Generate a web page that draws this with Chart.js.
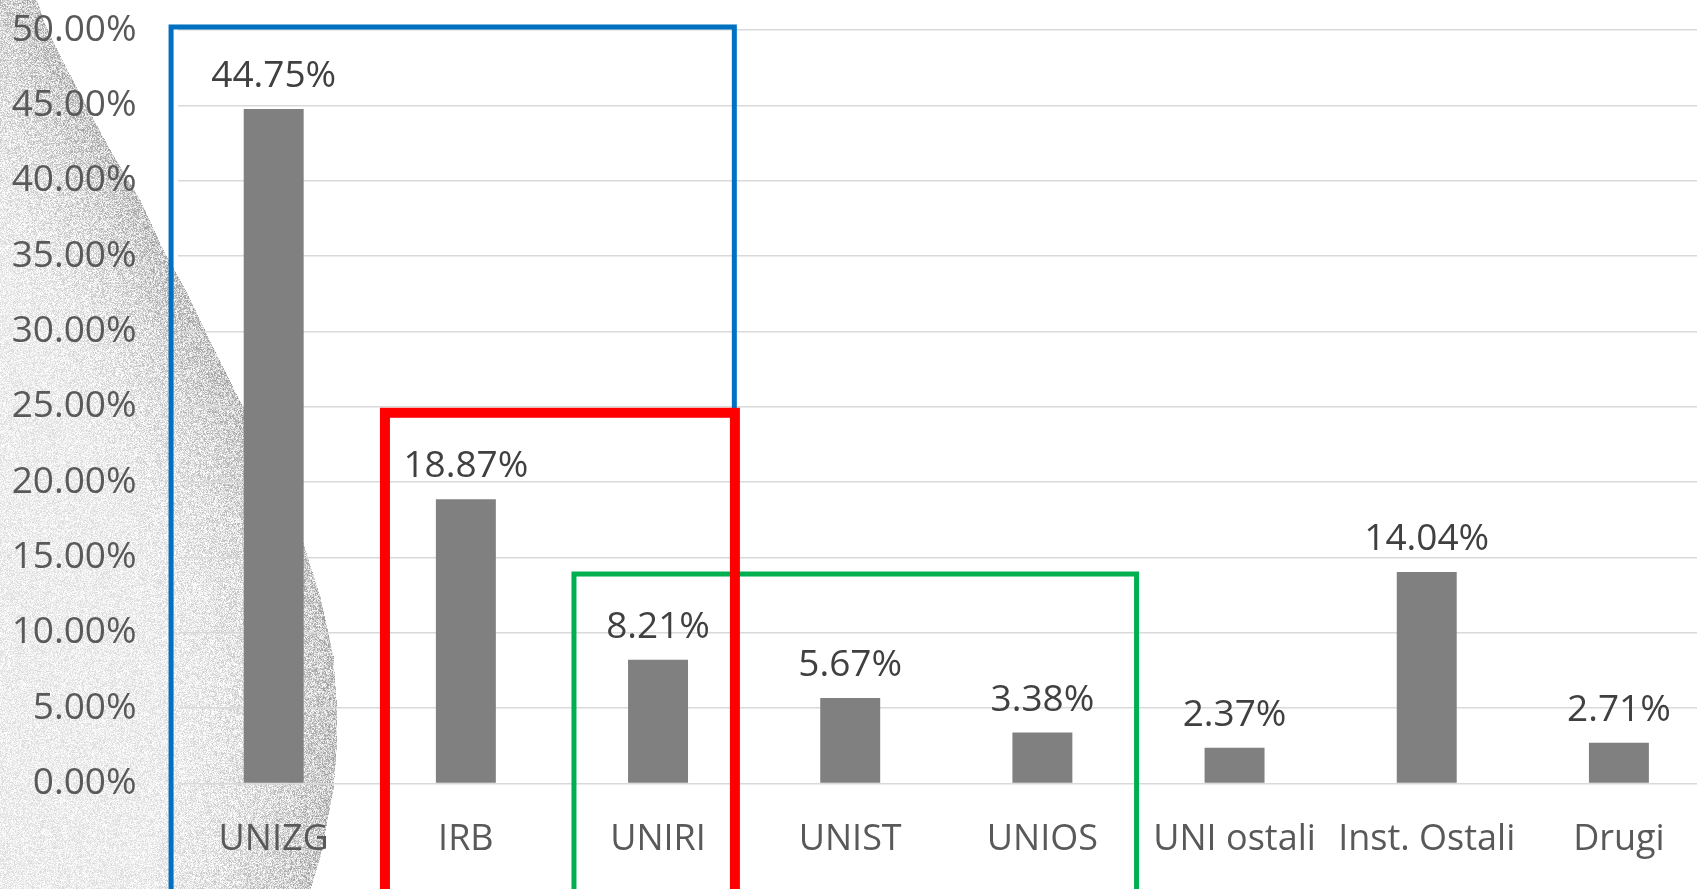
<!DOCTYPE html>
<html>
<head>
<meta charset="utf-8">
<script src="https://cdn.jsdelivr.net/npm/chart.js@4/dist/chart.umd.min.js"></script>
<style>
  html, body { margin: 0; padding: 0; background: #ffffff; overflow: hidden; }
  #wrap { width: 1720px; height: 889px; }
</style>
</head>
<body>
<div id="wrap"><canvas id="c" width="1720" height="889"></canvas></div>
<script>
// ---- data ----
const categories = ['UNIZG', 'IRB', 'UNIRI', 'UNIST', 'UNIOS', 'UNI ostali', 'Inst. Ostali', 'Drugi'];
const shares = [44.75, 18.87, 8.21, 5.67, 3.38, 2.37, 14.04, 2.71];
const yMin = 0;
const yMax = 50;
const yStep = 5;

// highlight boxes: in category units (from/to) and value units (top)
const boxFrom = [-0.534, 1.5625, 0.579];
const boxTo = [2.397, 4.49, 2.40];
const boxTop = [50.2, 13.9, 24.6];
const boxColors = ['#0070C0', '#00B050', '#FF0000'];
const boxWidths = [5, 5, 10];

// decorative stippled backdrop outline (pixel outline of the grey shape)
const shapeY = [0, 20, 50, 100, 150, 200, 250, 293, 350, 407, 470, 543, 597, 656, 700, 739, 789, 856, 889];
const shapeX = [37, 43, 57, 83, 110, 140, 163, 187, 214, 243, 273, 303, 320, 333, 336, 337, 333, 320, 310];

function boundaryAt(y) {
  for (let i = 0; i < shapeY.length - 1; i++) {
    if (y >= shapeY[i] && y <= shapeY[i + 1]) {
      const t = (y - shapeY[i]) / (shapeY[i + 1] - shapeY[i]);
      return shapeX[i] + t * (shapeX[i + 1] - shapeX[i]);
    }
  }
  return shapeX[shapeX.length - 1];
}
function hash(x, y) {
  const s = Math.sin(x * 12.9898 + y * 78.233) * 43758.5453;
  return s - Math.floor(s);
}
let textureCanvas = null;
function buildTexture(h) {
  const w = 345;
  const off = document.createElement('canvas');
  off.width = w; off.height = h;
  const octx = off.getContext('2d');
  const img = octx.createImageData(w, h);
  for (let y = 0; y < h; y++) {
    const b = boundaryAt(y);
    for (let x = 0; x < w; x++) {
      const idx = (y * w + x) * 4;
      if (x > b) { img.data[idx + 3] = 0; continue; }
      const d = b - x;
      const edge = Math.max(0, 1 - d / 180);
      const base = 237 - 38 * edge * edge;
      const amp = 40 + 60 * edge;
      const n = (hash(x, y) - 0.5) * amp;
      const v = Math.max(0, Math.min(255, base + n));
      img.data[idx] = v; img.data[idx + 1] = v; img.data[idx + 2] = v;
      img.data[idx + 3] = 255;
    }
  }
  octx.putImageData(img, 0, 0);
  return off;
}

const backdropPlugin = {
  id: 'backdrop',
  beforeDraw(chart) {
    const ctx = chart.ctx;
    ctx.save();
    ctx.fillStyle = '#ffffff';
    ctx.fillRect(0, 0, chart.width, chart.height);
    if (!textureCanvas) textureCanvas = buildTexture(chart.height);
    ctx.drawImage(textureCanvas, 0, 0);
    ctx.restore();
  }
};

const valueLabelPlugin = {
  id: 'valueLabels',
  afterDatasetsDraw(chart) {
    const ctx = chart.ctx;
    const meta = chart.getDatasetMeta(0);
    ctx.save();
    ctx.font = '37px "Open Sans"';
    ctx.fillStyle = '#404040';
    ctx.textAlign = 'center';
    ctx.textBaseline = 'alphabetic';
    meta.data.forEach((bar, i) => {
      ctx.fillText(shares[i].toFixed(2) + '%', bar.x, bar.y - 22);
    });
    ctx.restore();
  }
};

const boxPlugin = {
  id: 'boxes',
  afterDraw(chart) {
    const ctx = chart.ctx;
    const xs = chart.scales.x, ys = chart.scales.y;
    const p0 = xs.getPixelForValue(0), p1 = xs.getPixelForValue(1);
    const step = p1 - p0;
    ctx.save();
    for (let i = 0; i < boxFrom.length; i++) {
      const left = p0 + boxFrom[i] * step;
      const right = p0 + boxTo[i] * step;
      const top = ys.getPixelForValue(boxTop[i]);
      ctx.strokeStyle = boxColors[i];
      ctx.lineWidth = boxWidths[i];
      ctx.lineJoin = 'miter';
      ctx.strokeRect(left, top, right - left, chart.height + 200 - top);
    }
    ctx.restore();
  }
};

new Chart(document.getElementById('c'), {
  type: 'bar',
  data: {
    labels: categories,
    datasets: [{
      data: shares,
      backgroundColor: '#808080',
      borderWidth: 0,
      categoryPercentage: 1,
      barPercentage: 0.312
    }]
  },
  options: {
    responsive: false,
    animation: false,
    devicePixelRatio: 1,
    layout: { padding: { top: 30, right: 5, bottom: 0, left: 0 } },
    plugins: { legend: { display: false }, tooltip: { enabled: false } },
    scales: {
      x: {
        grid: { display: false },
        border: { display: false },
        ticks: {
          color: '#595959',
          font: { family: 'Open Sans', size: 36 },
          padding: 27,
          maxRotation: 0,
          autoSkip: false
        },
        afterFit(scale) { scale.height = 105.5; scale.paddingLeft = 0; scale.paddingRight = 0; }
      },
      y: {
        min: yMin,
        max: yMax,
        grid: { color: '#d9d9d9', lineWidth: 1.5, drawTicks: false },
        border: { display: false },
        ticks: {
          stepSize: yStep,
          color: '#595959',
          font: { family: 'Open Sans', size: 37 },
          padding: 41,
          callback: (v) => Number(v).toFixed(2) + '%'
        },
        afterFit(scale) { scale.width = 177.6; scale.paddingTop = 0; scale.paddingBottom = 0; }
      }
    }
  },
  plugins: [backdropPlugin, valueLabelPlugin, boxPlugin]
});
</script>
</body>
</html>
